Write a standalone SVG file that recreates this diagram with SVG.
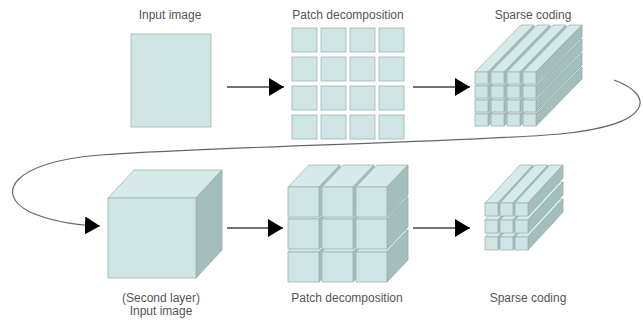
<svg xmlns="http://www.w3.org/2000/svg" xmlns:xlink="http://www.w3.org/1999/xlink" width="643" height="320" viewBox="0 0 643 320">
<style>
.lbl{font-family:"Liberation Sans",Arial,sans-serif;font-size:12px;fill:#555;text-anchor:middle}
.fr{fill:#cfe5e4;stroke:#9db5b4;stroke-width:0.8}
.tp{fill:#d6eaea;stroke:#9db5b4;stroke-width:0.8}
.rt{fill:#a3bebd;stroke:#93acab;stroke-width:0.8}
.ln{fill:none;stroke:#444;stroke-width:1.3}
</style>
<defs>
<marker id="ah" markerUnits="userSpaceOnUse" markerWidth="16" markerHeight="18" refX="15" refY="9" orient="auto">
<polygon points="0,0 15,9 0,18" fill="#000"/>
</marker>
<g id="rodAx"><polygon class="tp" points="0,0 13,0 59,-47 46,-47"/><polygon class="rt" points="13,0 13,12 59,-35 59,-47"/></g>
<rect id="rodAf" class="fr" x="0" y="0" width="13" height="12"/>
<g id="rodBx"><polygon class="tp" points="0,0 13,0 48,-38 35,-38"/><polygon class="rt" points="13,0 13,13 48,-25 48,-38"/></g>
<rect id="rodBf" class="fr" x="0" y="0" width="13" height="13"/>
<g id="blkx"><polygon class="tp" points="0,0 31,0 52,-22 21,-22"/><polygon class="rt" points="31,0 31,30 52,8 52,-22"/></g>
<rect id="blkf" class="fr" x="0" y="0" width="31" height="30"/>
</defs>

<g id="input-image">
<text class="lbl" x="170" y="19">Input image</text>
<rect class="fr" x="131" y="34" width="80" height="93"/>
</g>

<g id="patch-decomposition-1">
<text class="lbl" x="348" y="19">Patch decomposition</text>
<rect class="fr" x="292" y="28" width="25" height="24"/><rect class="fr" x="321" y="28" width="25" height="24"/><rect class="fr" x="350" y="28" width="25" height="24"/><rect class="fr" x="379" y="28" width="25" height="24"/>
<rect class="fr" x="292" y="57" width="25" height="24"/><rect class="fr" x="321" y="57" width="25" height="24"/><rect class="fr" x="350" y="57" width="25" height="24"/><rect class="fr" x="379" y="57" width="25" height="24"/>
<rect class="fr" x="292" y="86" width="25" height="24"/><rect class="fr" x="321" y="86" width="25" height="24"/><rect class="fr" x="350" y="86" width="25" height="24"/><rect class="fr" x="379" y="86" width="25" height="24"/>
<rect class="fr" x="292" y="115" width="25" height="24"/><rect class="fr" x="321" y="115" width="25" height="24"/><rect class="fr" x="350" y="115" width="25" height="24"/><rect class="fr" x="379" y="115" width="25" height="24"/>
</g>

<g id="sparse-coding-1">
<text class="lbl" x="533" y="19">Sparse coding</text>
<use xlink:href="#rodAx" x="475" y="114"/><use xlink:href="#rodAx" x="491" y="114"/><use xlink:href="#rodAx" x="507" y="114"/><use xlink:href="#rodAx" x="523" y="114"/>
<use xlink:href="#rodAx" x="475" y="100"/><use xlink:href="#rodAx" x="491" y="100"/><use xlink:href="#rodAx" x="507" y="100"/><use xlink:href="#rodAx" x="523" y="100"/>
<use xlink:href="#rodAx" x="475" y="86"/><use xlink:href="#rodAx" x="491" y="86"/><use xlink:href="#rodAx" x="507" y="86"/><use xlink:href="#rodAx" x="523" y="86"/>
<use xlink:href="#rodAx" x="475" y="72"/><use xlink:href="#rodAx" x="491" y="72"/><use xlink:href="#rodAx" x="507" y="72"/><use xlink:href="#rodAx" x="523" y="72"/>
<use xlink:href="#rodAf" x="475" y="114"/><use xlink:href="#rodAf" x="491" y="114"/><use xlink:href="#rodAf" x="507" y="114"/><use xlink:href="#rodAf" x="523" y="114"/>
<use xlink:href="#rodAf" x="475" y="100"/><use xlink:href="#rodAf" x="491" y="100"/><use xlink:href="#rodAf" x="507" y="100"/><use xlink:href="#rodAf" x="523" y="100"/>
<use xlink:href="#rodAf" x="475" y="86"/><use xlink:href="#rodAf" x="491" y="86"/><use xlink:href="#rodAf" x="507" y="86"/><use xlink:href="#rodAf" x="523" y="86"/>
<use xlink:href="#rodAf" x="475" y="72"/><use xlink:href="#rodAf" x="491" y="72"/><use xlink:href="#rodAf" x="507" y="72"/><use xlink:href="#rodAf" x="523" y="72"/>
</g>

<g id="second-layer-input">
<polygon class="tp" points="108,198 196,198 222,170 134,170"/>
<polygon class="rt" points="196,198 196,278 222,250 222,170"/>
<rect class="fr" x="108" y="198" width="88" height="80"/>
<text class="lbl" x="161" y="302">(Second layer)</text>
<text class="lbl" x="161" y="315">Input image</text>
</g>

<g id="patch-decomposition-2">
<use xlink:href="#blkx" x="288" y="252"/><use xlink:href="#blkx" x="322" y="252"/><use xlink:href="#blkx" x="356" y="252"/>
<use xlink:href="#blkx" x="288" y="219"/><use xlink:href="#blkx" x="322" y="219"/><use xlink:href="#blkx" x="356" y="219"/>
<use xlink:href="#blkx" x="288" y="187"/><use xlink:href="#blkx" x="322" y="187"/><use xlink:href="#blkx" x="356" y="187"/>
<use xlink:href="#blkf" x="288" y="252"/><use xlink:href="#blkf" x="322" y="252"/><use xlink:href="#blkf" x="356" y="252"/>
<use xlink:href="#blkf" x="288" y="219"/><use xlink:href="#blkf" x="322" y="219"/><use xlink:href="#blkf" x="356" y="219"/>
<use xlink:href="#blkf" x="288" y="187"/><use xlink:href="#blkf" x="322" y="187"/><use xlink:href="#blkf" x="356" y="187"/>
<text class="lbl" x="347" y="302">Patch decomposition</text>
</g>

<g id="sparse-coding-2">
<use xlink:href="#rodBx" x="485" y="237"/><use xlink:href="#rodBx" x="500" y="237"/><use xlink:href="#rodBx" x="515" y="237"/>
<use xlink:href="#rodBx" x="485" y="220"/><use xlink:href="#rodBx" x="500" y="220"/><use xlink:href="#rodBx" x="515" y="220"/>
<use xlink:href="#rodBx" x="485" y="203"/><use xlink:href="#rodBx" x="500" y="203"/><use xlink:href="#rodBx" x="515" y="203"/>
<use xlink:href="#rodBf" x="485" y="237"/><use xlink:href="#rodBf" x="500" y="237"/><use xlink:href="#rodBf" x="515" y="237"/>
<use xlink:href="#rodBf" x="485" y="220"/><use xlink:href="#rodBf" x="500" y="220"/><use xlink:href="#rodBf" x="515" y="220"/>
<use xlink:href="#rodBf" x="485" y="203"/><use xlink:href="#rodBf" x="500" y="203"/><use xlink:href="#rodBf" x="515" y="203"/>
<text class="lbl" x="528" y="302">Sparse coding</text>
</g>

<g id="connectors">
<line class="ln" x1="227" y1="87" x2="284" y2="87" marker-end="url(#ah)"/>
<line class="ln" x1="413" y1="87" x2="470" y2="87" marker-end="url(#ah)"/>
<line class="ln" x1="227" y1="228" x2="283" y2="228" marker-end="url(#ah)"/>
<line class="ln" x1="413" y1="228" x2="470" y2="228" marker-end="url(#ah)"/>
<path d="M614 80 C655 95 655 125 560 134 C450 143 250 145 100 155 C10 162 -5 195 30 212 C50 221 70 225 100 226" fill="none" stroke="#666" stroke-width="1.2" marker-end="url(#ah)"/>
</g>
</svg>
